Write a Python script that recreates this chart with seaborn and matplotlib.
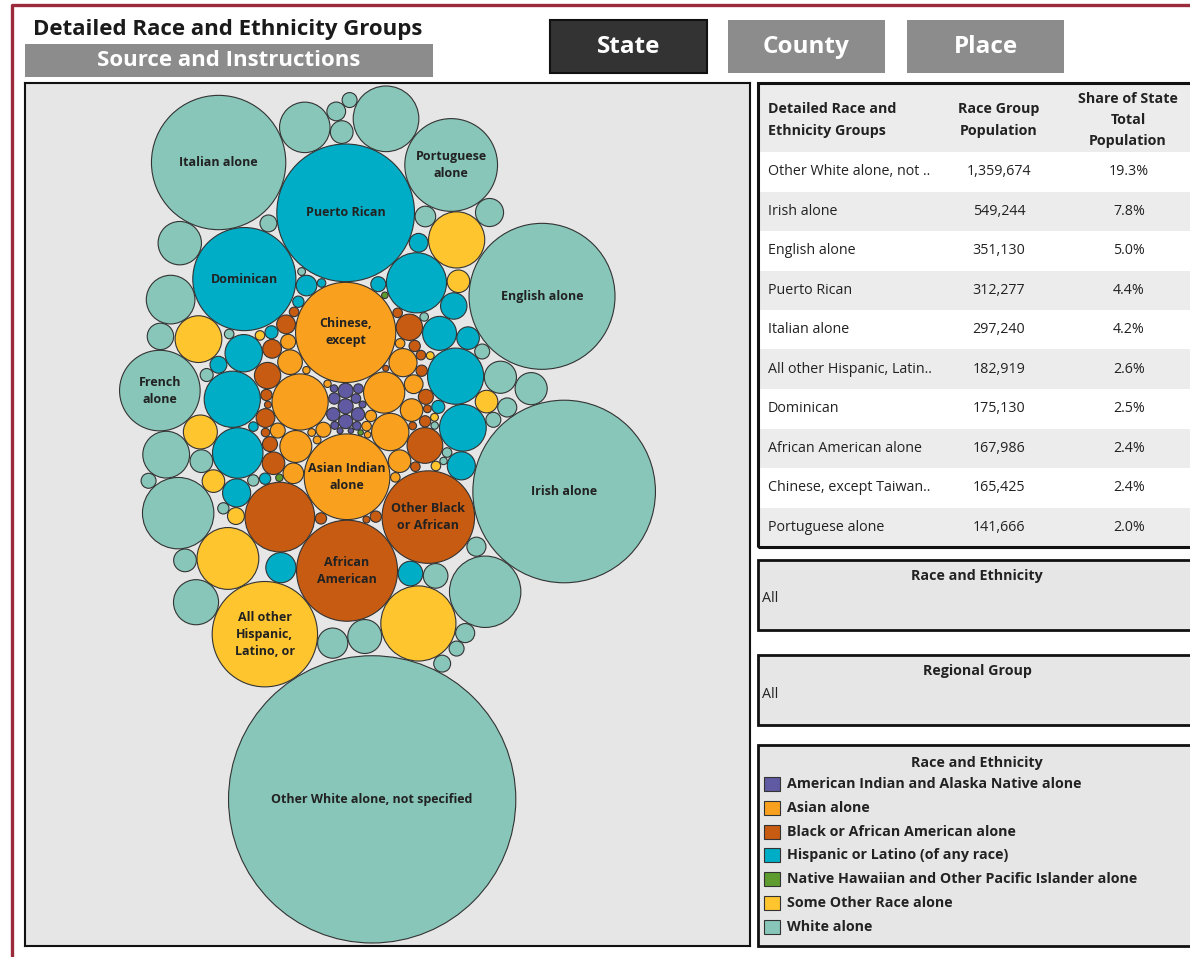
import numpy as np
import pandas as pd
import matplotlib
matplotlib.use("Agg")
import matplotlib.pyplot as plt
from matplotlib.patches import Rectangle
from matplotlib.lines import Line2D
import seaborn as sns

# Race groups (legend order) and their colours
groups = ["American Indian and Alaska Native alone", "Asian alone",
          "Black or African American alone", "Hispanic or Latino (of any race)",
          "Native Hawaiian and Other Pacific Islander alone", "Some Other Race alone",
          "White alone"]
group_colors = ["#5f5aa2", "#f9a11f", "#c75b12", "#00adc6", "#5e9c2f", "#fec52e", "#87c6b9"]

# Detailed group populations per race group
aian_pop = [3700, 3700, 3300, 2900, 2900, 2100, 1500, 1500, 1200, 1000, 900, 800, 600, 500]
asian_pop = [165425, 121000, 52000, 28000, 23000, 16800, 13000, 10000, 8400, 8400, 7000, 5800,
             3700, 3700, 3700, 2100, 1500, 1500, 1500, 1000, 1000, 900, 900, 700]
black_pop = [167986, 141000, 80000, 21000, 11400, 11400, 8400, 5800, 5800, 5800, 3700, 3700,
             2100, 2100, 2100, 2100, 2100, 2100, 1500, 1500, 1500, 1500, 1200, 1000, 1000, 800, 800, 600]
hisp_pop = [312277, 175130, 59500, 52000, 52000, 42000, 36000, 23000, 19000, 15000, 13000, 13000,
            11500, 10000, 8400, 7000, 5800, 4700, 3700, 2800, 2800, 2100, 2100, 1500, 1200]
nhpi_pop = [900, 700, 500]
other_pop = [182919, 93000, 63000, 52000, 36000, 19000, 8400, 8400, 8400, 4700, 1500, 1500, 1000, 1000]
white_pop = [1359674, 549244, 351130, 297240, 141666, 107000, 84000, 84000, 71000, 42000, 39000,
             36000, 33500, 31000, 19000, 17000, 17000, 15000, 13000, 11500, 10000, 8500, 8500, 8500,
             7000, 6000, 6000, 6000, 5800, 4700, 4700, 3700, 3700, 3700, 3700, 3700, 2800, 2100,
             2100, 1500, 1500, 1200, 1000, 900, 900]

# bubbles that carry a label
label_pop = [1359674, 549244, 351130, 312277, 297240, 182919, 175130, 167986, 165425,
             141000, 141666, 121000, 107000]
label_text = ["Other White alone, not specified", "Irish alone", "English alone", "Puerto Rican",
              "Italian alone", "All other\nHispanic,\nLatino, or", "Dominican", "African\nAmerican",
              "Chinese,\nexcept", "Other Black\nor African", "Portuguese\nalone",
              "Asian Indian\nalone", "French\nalone"]

# top 10 table
table_names = ["Other White alone, not ..", "Irish alone", "English alone", "Puerto Rican",
               "Italian alone", "All other Hispanic, Latin..", "Dominican", "African American alone",
               "Chinese, except Taiwan..", "Portuguese alone"]
table_pop = [1359674, 549244, 351130, 312277, 297240, 182919, 175130, 167986, 165425, 141666]
table_share = ["19.3%", "7.8%", "5.0%", "4.4%", "4.2%", "2.6%", "2.5%", "2.4%", "2.4%", "2.0%"]

W, H = 1190, 957

# build bubble table
pops = [aian_pop, asian_pop, black_pop, hisp_pop, nhpi_pop, other_pop, white_pop]
rows = []
for g, vals in zip(groups, pops):
    for v in sorted(vals, reverse=True):
        rows.append((g, v))
df = pd.DataFrame(rows, columns=["group", "pop"])
lab = dict(zip(label_pop, label_text))
df["label"] = df["pop"].map(lab).fillna("")
df["r"] = np.sqrt(df["pop"]) * 0.1312


def pack(radii, k=0.74, pad=0.7):
    # greedy packing: each bubble goes to the free spot nearest the centre
    n = len(radii)
    xs = np.zeros(n)
    ys = np.zeros(n)
    ang = np.linspace(0, 2 * np.pi, 36, endpoint=False)
    for i in range(1, n):
        r = radii[i]
        px, py = xs[:i], ys[:i]
        R = radii[:i] + r + pad
        cx = [(px[:, None] + R[:, None] * np.cos(ang)).ravel()]
        cy = [(py[:, None] + R[:, None] * np.sin(ang)).ravel()]
        if i > 1:
            a_i, b_i = np.triu_indices(i, 1)
            dx = px[b_i] - px[a_i]
            dy = py[b_i] - py[a_i]
            d = np.hypot(dx, dy)
            a = R[a_i]
            b = R[b_i]
            ok = (d < a + b) & (d > np.abs(a - b)) & (d > 0)
            a_i, dx, dy, d, a, b = a_i[ok], dx[ok], dy[ok], d[ok], a[ok], b[ok]
            l = (a ** 2 - b ** 2 + d ** 2) / (2 * d)
            h = np.sqrt(np.maximum(a ** 2 - l ** 2, 0))
            mx = px[a_i] + l * dx / d
            my = py[a_i] + l * dy / d
            cx += [mx - h * dy / d, mx + h * dy / d]
            cy += [my + h * dx / d, my - h * dx / d]
        cx = np.concatenate(cx)
        cy = np.concatenate(cy)
        order = np.argsort(cx ** 2 + (k * cy) ** 2)
        for s in range(0, len(order), 400):
            idx = order[s:s + 400]
            dist = np.hypot(cx[idx, None] - px[None, :], cy[idx, None] - py[None, :])
            good = np.all(dist >= R[None, :] - 1e-6, axis=1)
            if good.any():
                j = idx[np.argmax(good)]
                xs[i], ys[i] = cx[j], cy[j]
                break
    return xs, ys


# try a few squash factors, keep the layout that best fills a tall 603x857 footprint
radii = df["r"].to_numpy()
best = None
for k in [0.38, 0.42, 0.46, 0.5, 0.54, 0.58, 0.62, 0.66]:
    px_, py_ = pack(radii, k=k)
    wd = (px_ + radii).max() - (px_ - radii).min()
    ht = (py_ + radii).max() - (py_ - radii).min()
    scale = min(603 / wd, 857 / ht)
    if best is None or scale > best[0]:
        best = (scale, px_, py_)
xs, ys = best[1], best[2]
big = df["pop"].idxmax()
if ys[big] > 0:
    ys = -ys
irish = df.index[df["pop"] == 549244][0]
if xs[irish] < xs[big]:
    xs = -xs
df["x"] = xs
df["y"] = ys

sns.set_theme(style="white")
plt.rcParams["font.family"] = ["Open Sans", "DejaVu Sans"]

fig = plt.figure(figsize=(W / 100, H / 100), dpi=100)
fig.patch.set_facecolor("white")


def fx(x):
    return x / W


def fy(y):
    return 1 - y / H


def box(x0, y0, x1, y1, fc, ec="none", lw=0, z=1):
    fig.add_artist(Rectangle((fx(x0), fy(y1)), (x1 - x0) / W, (y1 - y0) / H,
                             transform=fig.transFigure, fc=fc, ec=ec, lw=lw, zorder=z))


def ftext(x, y, s, **kw):
    fig.text(fx(x), fy(y), s, **kw)


# frame
fig.add_artist(Line2D([fx(12), fx(12), fx(1195)], [fy(960), fy(5), fy(5)],
                      transform=fig.transFigure, color="#9b2a3a", lw=2.4))

# header and buttons
ftext(33, 30, "Detailed Race and Ethnicity Groups", fontsize=16, weight="bold",
      color="#1a1a1a", va="center")
box(25, 44, 433, 77, "#8c8c8c")
ftext(229, 61, "Source and Instructions", fontsize=16, weight="bold", color="white",
      ha="center", va="center")
for x0, name, fc in [(550, "State", "#333333"), (728, "County", "#8c8c8c"), (907, "Place", "#8c8c8c")]:
    box(x0, 20, x0 + 157, 73, fc, ec="#111111" if name == "State" else "none",
        lw=1.5 if name == "State" else 0)
    ftext(x0 + 78.5, 47, name, fontsize=17.5, weight="bold", color="white", ha="center", va="center")

# bubble chart
ax = fig.add_axes([fx(25), fy(946), 725 / W, 863 / H])
ax.set_facecolor("#e6e6e6")
x0 = (df["x"] - df["r"]).min()
x1 = (df["x"] + df["r"]).max()
y0 = (df["y"] - df["r"]).min()
y1 = (df["y"] + df["r"]).max()
ppu = min(717 / (x1 - x0), 857 / (y1 - y0))
xc, yc = (x0 + x1) / 2, (y0 + y1) / 2
df["s"] = (2 * df["r"] * ppu * 0.72) ** 2
lo, hi = df["s"].min(), df["s"].max()
sns.scatterplot(data=df, x="x", y="y", hue="group", hue_order=groups,
                palette=dict(zip(groups, group_colors)), size="s", sizes=(lo, hi),
                size_norm=(lo, hi), edgecolor="#333333", linewidth=0.8, alpha=1,
                legend=False, ax=ax)
ax.set_xlim(xc - 362.5 / ppu, xc + 362.5 / ppu)
ax.set_ylim(yc - 431.5 / ppu, yc + 431.5 / ppu)
ax.set(xlabel="", ylabel="", xticks=[], yticks=[])
for sp in ax.spines.values():
    sp.set_color("#111111")
    sp.set_linewidth(1.5)
for _, row in df[df["label"] != ""].iterrows():
    ax.text(row["x"], row["y"], row["label"], ha="center", va="center", fontsize=9,
            weight="bold", color="#222222", linespacing=1.4)

# top 10 table
box(758, 83, 1200, 152, "#ececec", z=1)
for i in range(10):
    top = 152 + 39.5 * i
    box(758, top, 1200, top + 39.5, "white" if i % 2 == 0 else "#ececec", z=1)
box(758, 83, 1200, 547, "none", ec="#111111", lw=2.2, z=3)
hdr = dict(fontsize=10.3, weight="bold", color="#222222", va="center", linespacing=1.65)
ftext(768, 120, "Detailed Race and\nEthnicity Groups", ha="left", **hdr)
ftext(999, 120, "Race Group\nPopulation", ha="center", **hdr)
ftext(1128, 120, "Share of State\nTotal\nPopulation", ha="center", **hdr)
for i, (nm, v, sh) in enumerate(zip(table_names, table_pop, table_share)):
    yy = 152 + 39.5 * (i + 0.5)
    ftext(768, yy, nm, fontsize=10.3, color="#222222", va="center")
    ftext(999, yy, f"{v:,}", fontsize=10.3, color="#222222", va="center", ha="center")
    ftext(1129, yy, sh, fontsize=10.3, color="#222222", va="center", ha="center")

# filter cards
for top, title in [(560, "Race and Ethnicity"), (655, "Regional Group")]:
    box(758, top, 1200, top + 70, "#e6e6e6", ec="#111111", lw=2, z=2)
    ftext(977, top + 16, title, fontsize=10.3, weight="bold", color="#222222", ha="center", va="center")
    ftext(762, top + 39, "All", fontsize=10.3, color="#222222", va="center")

# colour legend
box(758, 745, 1200, 946, "#e6e6e6", ec="#111111", lw=2, z=2)
ftext(977, 763, "Race and Ethnicity", fontsize=10.3, weight="bold", color="#222222",
      ha="center", va="center")
for i, (g, c) in enumerate(zip(groups, group_colors)):
    yy = 784 + 23.8 * i
    box(764, yy - 7, 780, yy + 7, c, ec="#333333", lw=0.8, z=3)
    ftext(787, yy, g, fontsize=10.3, weight="bold", color="#222222", va="center")

fig.savefig("out.png", dpi=100)
